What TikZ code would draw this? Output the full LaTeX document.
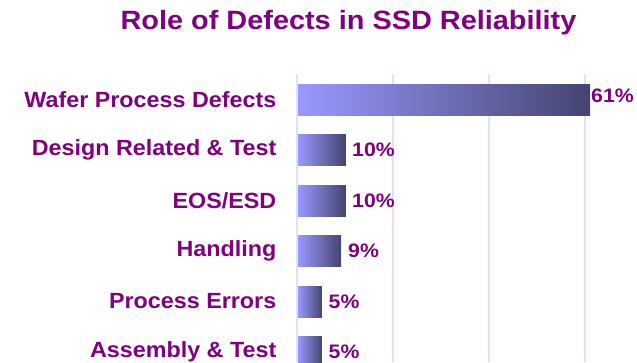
\documentclass[tikz,border=0pt]{standalone}
\usepackage{fontspec}
\setmainfont{Liberation Sans}[FakeStretch=1.09]
\newfontfamily\catfont{Liberation Sans}[FakeStretch=1.06]
\definecolor{txtpurple}{RGB}{128,0,128}
\definecolor{gridc}{RGB}{224,224,255}
\definecolor{barlight}{RGB}{153,153,255}
\definecolor{bardark}{RGB}{68,68,112}
\begin{document}
\begin{tikzpicture}[x=1pt,y=-1pt,
  cat/.style={anchor=east,text=txtpurple,font=\catfont\fontsize{22}{24}\selectfont\bfseries,inner sep=0pt},
  pct/.style={anchor=west,text=txtpurple,font=\fontsize{19.5}{22}\selectfont\bfseries,inner sep=0pt},
  bar/.style={left color=barlight,right color=bardark,draw=none},
  grid/.style={draw=gridc,line width=1.5pt}]
\useasboundingbox (0,0) rectangle (637,362);
\clip (0,0) rectangle (637,362);
% title
\node[text=txtpurple,font=\fontsize{26.5}{30}\selectfont\bfseries,inner sep=0pt] (title) at (348.5,23) {Role of Defects in SSD Reliability};
% gridlines
\foreach \gx/\gn in {297/g0,393/g1,489/g2,585/g3}{
  \coordinate (\gn top) at (\gx,74);
  \coordinate (\gn bot) at (\gx,362);
  \draw[grid] (\gn top) -- (\gn bot);
}
% bars
\foreach \i/\yc/\v/\lab in {1/99.5/61/{Wafer Process Defects},2/150/10/{Design Related \& Test},3/200.5/10/{EOS/ESD},4/251/9/{Handling},5/301.5/5/{Process Errors},6/352/5/{Assembly \& Test}}{
  \fill[bar] (298,\yc-15.5) rectangle ({298+4.79*\v},\yc+15.5);
  \node[cat] (lab\i) at (276.5,\yc) {\lab};
}
\node[pct] (p1) at (591,96) {61\%};
\node[pct] (p2) at (352,150) {10\%};
\node[pct] (p3) at (352,200.5) {10\%};
\node[pct] (p4) at (348,251) {9\%};
\node[pct] (p5) at (328.5,301.5) {5\%};
\node[pct] (p6) at (328.5,352) {5\%};
\end{tikzpicture}
\end{document}
